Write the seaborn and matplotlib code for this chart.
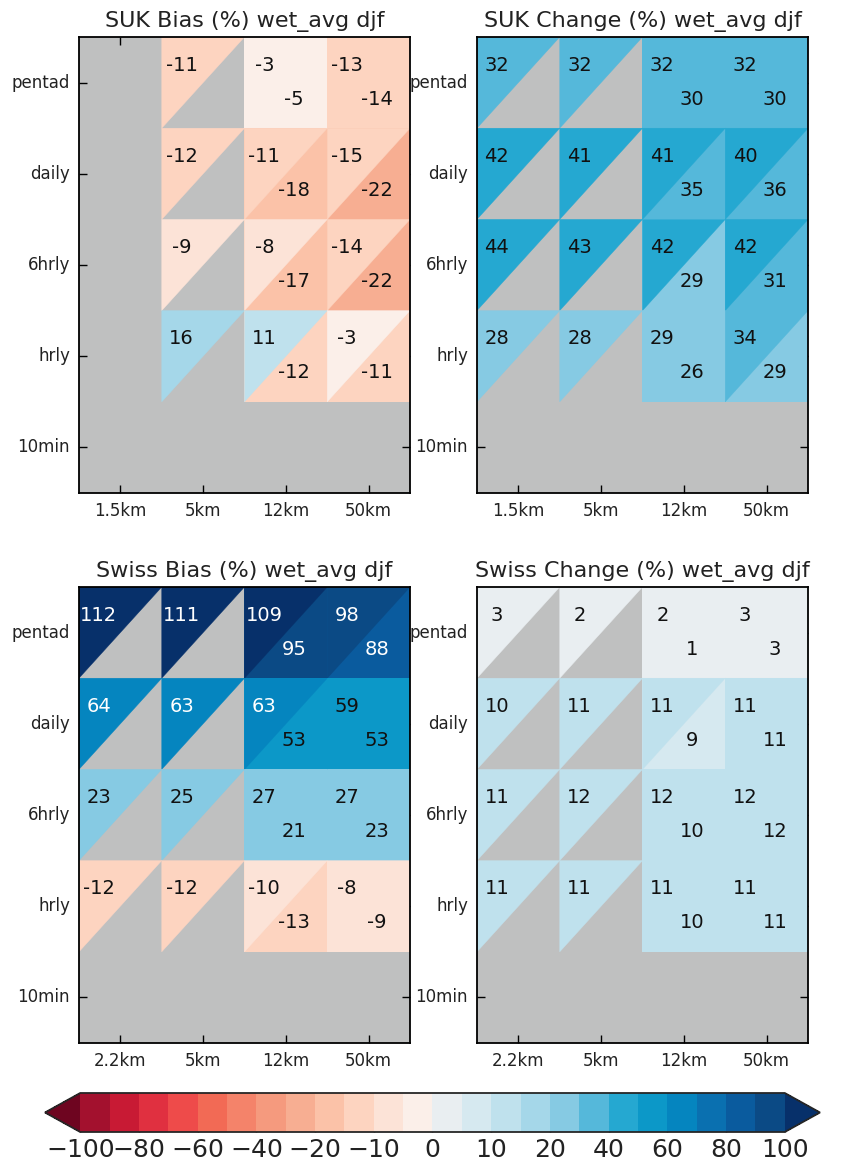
"""
Bias / change triangle grids (wet_avg, djf) for SUK and Swiss domains.
"""

import numpy as np
import pandas as pd
import matplotlib
matplotlib.use("Agg")
import matplotlib.pyplot as plt
from matplotlib.colors import ListedColormap, BoundaryNorm
from matplotlib.collections import PolyCollection
from matplotlib.cm import ScalarMappable
import seaborn as sns

N = np.nan

rows = ["pentad", "daily", "6hrly", "hrly", "10min"]
cols_suk = ["1.5km", "5km", "12km", "50km"]
cols_swiss = ["2.2km", "5km", "12km", "50km"]

# first value of each cell -> upper-left triangle, second -> lower-right
suk_bias_upper = [[N, -11, -3, -13],
                  [N, -12, -11, -15],
                  [N, -9, -8, -14],
                  [N, 16, 11, -3],
                  [N, N, N, N]]
suk_bias_lower = [[N, N, -5, -14],
                  [N, N, -18, -22],
                  [N, N, -17, -22],
                  [N, N, -12, -11],
                  [N, N, N, N]]

suk_change_upper = [[32, 32, 32, 32],
                    [42, 41, 41, 40],
                    [44, 43, 42, 42],
                    [28, 28, 29, 34],
                    [N, N, N, N]]
suk_change_lower = [[N, N, 30, 30],
                    [N, N, 35, 36],
                    [N, N, 29, 31],
                    [N, N, 26, 29],
                    [N, N, N, N]]

swiss_bias_upper = [[112, 111, 109, 98],
                    [64, 63, 63, 59],
                    [23, 25, 27, 27],
                    [-12, -12, -10, -8],
                    [N, N, N, N]]
swiss_bias_lower = [[N, N, 95, 88],
                    [N, N, 53, 53],
                    [N, N, 21, 23],
                    [N, N, -13, -9],
                    [N, N, N, N]]

swiss_change_upper = [[3, 2, 2, 3],
                      [10, 11, 11, 11],
                      [11, 12, 12, 12],
                      [11, 11, 11, 11],
                      [N, N, N, N]]
swiss_change_lower = [[N, N, 1, 3],
                      [N, N, 9, 11],
                      [N, N, 10, 12],
                      [N, N, 10, 11],
                      [N, N, N, N]]

levels = [-100, -90, -80, -70, -60, -50, -40, -30, -20, -15, -10, -5, 0,
          5, 10, 15, 20, 30, 40, 50, 60, 70, 80, 90, 100]
cbar_ticks = [-100, -80, -60, -40, -20, -10, 0, 10, 20, 40, 60, 80, 100]

GRAY = "#bfc0c0"

# red-to-blue palette, one colour per interval, plus under/over
palette = ["#a3112e", "#c81a34", "#e03040", "#ee4b4a", "#f26a55", "#f4836a",
           "#f59a7e", "#f7ae92", "#fbc2a8", "#fdd4c0", "#fce3d7", "#fbefe9",
           "#e9eef1", "#d6e9f0", "#bfe1ed", "#a5d7e9", "#86cae3", "#55b8da",
           "#25a8d1", "#0c98c8", "#0585bf", "#0a70b0", "#0a5b9e", "#0b4a85"]
under_color = "#6e0520"
over_color = "#07306a"

sns.set_style("ticks")
plt.rcParams["font.family"] = ["DejaVu Sans"]

cmap = ListedColormap(sns.color_palette(palette))
cmap.set_under(under_color)
cmap.set_over(over_color)
norm = BoundaryNorm(levels, cmap.N)


def draw_panel(ax, upper, lower, cols, title):
    ax.set_facecolor(GRAY)
    lower_df = pd.DataFrame(lower, index=rows, columns=cols)
    # lower-right triangles: full cells from the heatmap, upper triangles drawn on top
    sns.heatmap(lower_df, ax=ax, cmap=cmap, norm=norm, cbar=False,
                xticklabels=cols, yticklabels=rows, linewidths=0)

    up = np.array(upper, dtype=float)
    verts, vals = [], []
    for i in range(len(rows)):
        for j in range(len(cols)):
            if not np.isnan(up[i, j]):
                verts.append([(j, i), (j + 1, i), (j, i + 1)])
                vals.append(up[i, j])
    pc = PolyCollection(verts, array=np.array(vals), cmap=cmap, norm=norm,
                        edgecolors="face", linewidths=0.3)
    ax.add_collection(pc)

    lo = np.array(lower, dtype=float)
    for i in range(len(rows)):
        for j in range(len(cols)):
            for v, dx, dy in ((up[i, j], 0.24, 0.31), (lo[i, j], 0.6, 0.68)):
                if np.isnan(v):
                    continue
                tc = "white" if abs(v) >= 60 else "#111111"
                ax.text(j + dx, i + dy, f"{int(v)}", ha="center", va="center",
                        fontsize=14, color=tc, zorder=5)

    for sp in ax.spines.values():
        sp.set_visible(True)
        sp.set_linewidth(1.3)
        sp.set_color("black")
        sp.set_zorder(6)
    ax.tick_params(direction="in", top=True, right=True, length=6, width=1,
                   labelsize=12, pad=6.5, colors="black")
    ax.tick_params(axis="both", labelcolor="#222222")
    plt.setp(ax.get_yticklabels(), rotation=0, va="center")
    plt.setp(ax.get_xticklabels(), rotation=0)
    ax.set_xlabel("")
    ax.set_ylabel("")
    ax.set_title(title, fontsize=16, pad=7, color="#222222")


fig = plt.figure(figsize=(8.54, 11.68), dpi=100)

w, h = 331 / 854, 456 / 1168
ax1 = fig.add_axes([79 / 854, 1 - 493 / 1168, w, h])
ax2 = fig.add_axes([477 / 854, 1 - 493 / 1168, w, h])
ax3 = fig.add_axes([79 / 854, 1 - 1043 / 1168, w, h])
ax4 = fig.add_axes([477 / 854, 1 - 1043 / 1168, w, h])

draw_panel(ax1, suk_bias_upper, suk_bias_lower, cols_suk, "SUK Bias (%) wet_avg djf")
draw_panel(ax2, suk_change_upper, suk_change_lower, cols_suk, "SUK Change (%) wet_avg djf")
draw_panel(ax3, swiss_bias_upper, swiss_bias_lower, cols_swiss, "Swiss Bias (%) wet_avg djf")
draw_panel(ax4, swiss_change_upper, swiss_change_lower, cols_swiss, "Swiss Change (%) wet_avg djf")

cax = fig.add_axes([45 / 854, 1 - 1132 / 1168, 775 / 854, 39 / 1168])
sm = ScalarMappable(norm=norm, cmap=cmap)
cb = fig.colorbar(sm, cax=cax, orientation="horizontal", extend="both",
                  ticks=cbar_ticks, spacing="uniform", drawedges=False)
cb.outline.set_linewidth(1.3)
cb.ax.tick_params(direction="in", length=8, width=1, labelsize=18, pad=4,
                  labelcolor="#222222")
cb.ax.minorticks_off()

fig.savefig("out.png", dpi=100)
